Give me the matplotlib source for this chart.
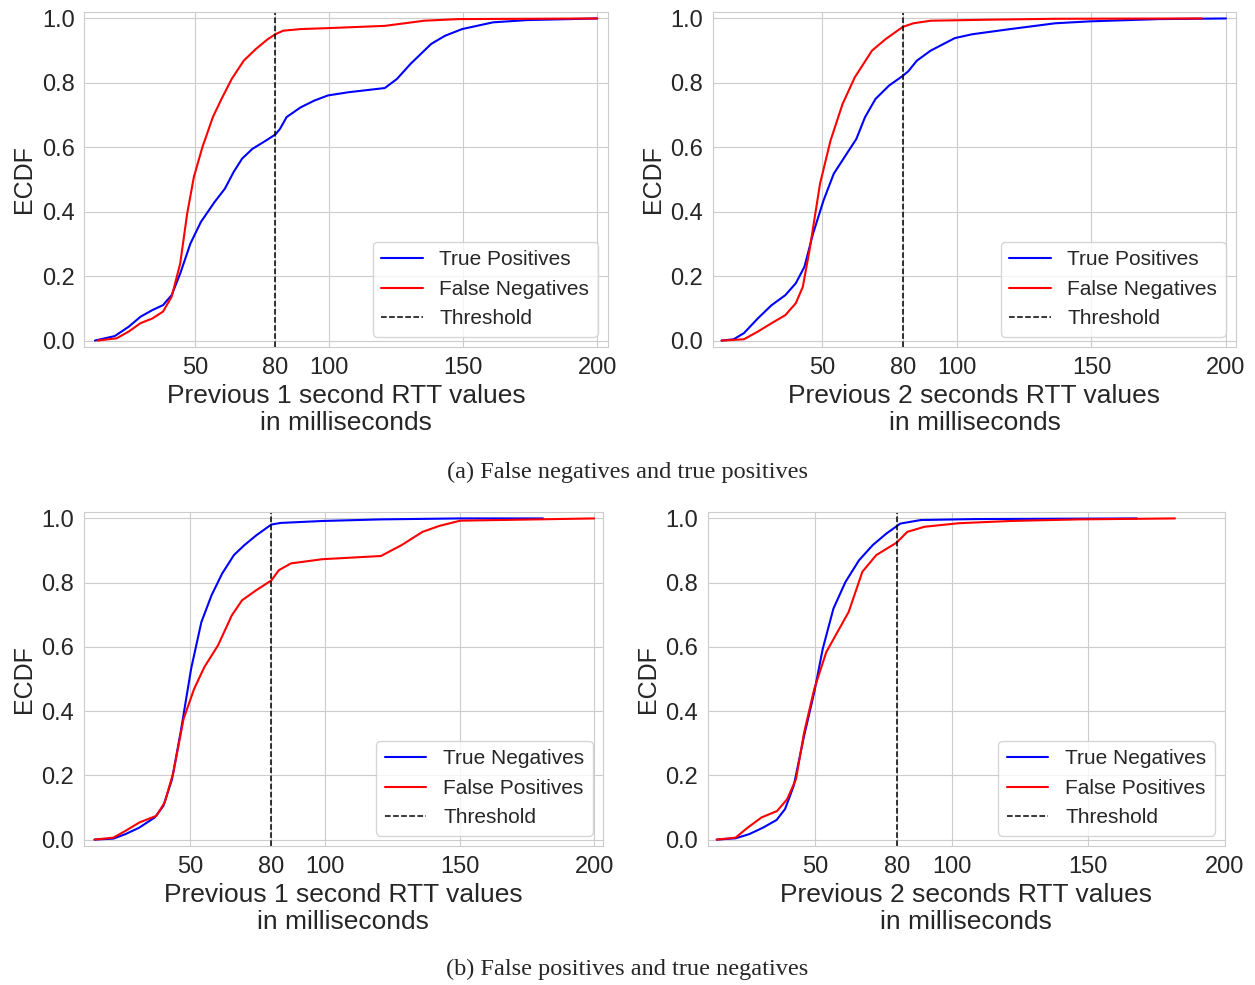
import matplotlib
matplotlib.use("Agg")
import matplotlib.pyplot as plt
import seaborn as sns

# (a) previous 1 second: true positives / false negatives
p1_tp_x = [12.7, 20.1, 25.3, 29.7, 34.2, 38.1, 41.3, 44.5, 48.3, 52.2, 57.3, 61.2, 64.4, 67.6, 71.4, 76.5, 80.0,
           81.7, 84.2, 89.4, 94.5, 99.6, 107.3, 120.8, 125.3, 130.4, 138.1, 143.2, 149.6, 161.2, 174.0, 200.0]
p1_tp_y = [0.0, 0.014, 0.043, 0.074, 0.095, 0.110, 0.141, 0.208, 0.301, 0.368, 0.430, 0.472, 0.523, 0.565, 0.595, 0.621, 0.640,
           0.657, 0.694, 0.724, 0.745, 0.761, 0.771, 0.784, 0.812, 0.859, 0.921, 0.946, 0.967, 0.988, 0.995, 1.0]
p1_fn_x = [13.7, 20.8, 25.3, 29.7, 34.2, 38.1, 41.3, 44.5, 47.1, 49.6, 52.8, 56.7, 59.9, 63.7, 68.2, 72.7, 77.2,
           80.0, 82.9, 89.4, 99.6, 120.8, 135.5, 148.3, 200.0]
p1_fn_y = [0.0, 0.007, 0.028, 0.054, 0.069, 0.090, 0.136, 0.239, 0.394, 0.508, 0.601, 0.694, 0.750, 0.812, 0.869, 0.905, 0.936,
           0.951, 0.962, 0.967, 0.970, 0.977, 0.993, 0.998, 1.0]

# (a) previous 2 seconds
p2_tp_x = [12.5, 17.0, 20.8, 26.0, 31.1, 36.2, 40.1, 43.3, 46.5, 50.4, 54.2, 59.4, 62.6, 65.8, 69.7, 74.8, 79.9,
           81.9, 85.1, 90.2, 99.2, 105.7, 119.8, 136.5, 149.4, 175.0, 200.0]
p2_tp_y = [0.0, 0.004, 0.023, 0.069, 0.110, 0.141, 0.178, 0.229, 0.332, 0.435, 0.518, 0.585, 0.626, 0.693, 0.750, 0.792, 0.822,
           0.836, 0.869, 0.900, 0.939, 0.951, 0.967, 0.985, 0.991, 0.998, 1.0]
p2_fn_x = [12.5, 20.8, 26.0, 31.1, 36.2, 40.1, 42.7, 45.2, 49.1, 53.0, 57.5, 62.0, 68.4, 73.5, 79.9, 83.8, 90.2,
           110.8, 136.5, 191.0]
p2_fn_y = [0.0, 0.004, 0.028, 0.054, 0.079, 0.116, 0.167, 0.281, 0.487, 0.621, 0.735, 0.817, 0.900, 0.936, 0.974, 0.985, 0.993,
           0.996, 0.999, 1.0]

# (b) previous 1 second: true negatives / false positives
p3_tn_x = [14.4, 21.4, 25.9, 31.0, 36.8, 40.0, 43.2, 46.4, 50.3, 54.1, 57.9, 61.8, 66.2, 70.1, 74.6, 80.1, 83.6,
           99.0, 120.8, 150.0, 181.0]
p3_tn_y = [0.0, 0.003, 0.017, 0.037, 0.069, 0.105, 0.188, 0.334, 0.532, 0.677, 0.761, 0.828, 0.886, 0.917, 0.948, 0.981, 0.986,
           0.992, 0.997, 1.0, 1.0]
p3_fp_x = [14.4, 21.4, 25.9, 31.0, 37.4, 40.5, 43.7, 47.5, 51.4, 55.2, 60.3, 65.4, 69.2, 74.4, 80.1, 82.9, 87.4,
           99.0, 120.8, 128.5, 136.2, 142.6, 150.3, 200.0]
p3_fp_y = [0.0, 0.006, 0.027, 0.053, 0.074, 0.116, 0.209, 0.376, 0.469, 0.537, 0.605, 0.698, 0.745, 0.776, 0.807, 0.839, 0.860,
           0.873, 0.883, 0.917, 0.958, 0.977, 0.993, 1.0]

# (b) previous 2 seconds
p4_tn_x = [14.0, 20.9, 25.9, 30.9, 35.9, 39.0, 42.2, 46.0, 49.7, 52.8, 56.7, 61.1, 66.1, 71.1, 76.1, 81.2, 88.7,
           108.8, 167.7]
p4_tn_y = [0.0, 0.004, 0.017, 0.037, 0.061, 0.095, 0.168, 0.324, 0.459, 0.594, 0.719, 0.802, 0.870, 0.917, 0.953, 0.984, 0.995,
           0.998, 1.0]
p4_fp_x = [14.0, 20.9, 25.3, 30.4, 36.1, 39.8, 43.0, 46.0, 49.7, 54.1, 58.5, 62.3, 67.3, 72.4, 79.9, 83.7, 90.0,
           102.5, 121.4, 146.5, 181.7]
p4_fp_y = [0.0, 0.006, 0.037, 0.069, 0.089, 0.126, 0.188, 0.334, 0.469, 0.584, 0.651, 0.709, 0.834, 0.886, 0.925, 0.958, 0.974,
           0.985, 0.992, 0.997, 1.0]

threshold = 80
x_ticks = [50, 80, 100, 150, 200]
y_ticks = [0.0, 0.2, 0.4, 0.6, 0.8, 1.0]

sns.set_style("whitegrid")
plt.rcParams['font.family'] = ['Liberation Sans', 'DejaVu Sans']

fig = plt.figure(figsize=(12.55, 9.85), dpi=100)

panels = [
  # rect, blue, red, labels, xlabel, xlim
  ([0.0673, 0.6477, 0.4171, 0.3401], (p1_tp_x, p1_tp_y), (p1_fn_x, p1_fn_y),
   ("True Positives", "False Negatives"), "Previous 1 second RTT values\nin milliseconds", (8.8, 204.0)),
  ([0.5681, 0.6477, 0.4167, 0.3401], (p2_tp_x, p2_tp_y), (p2_fn_x, p2_fn_y),
   ("True Positives", "False Negatives"), "Previous 2 seconds RTT values\nin milliseconds", (9.3, 203.7)),
  ([0.0667, 0.1411, 0.4138, 0.3391], (p3_tn_x, p3_tn_y), (p3_fp_x, p3_fp_y),
   ("True Negatives", "False Positives"), "Previous 1 second RTT values\nin milliseconds", (10.4, 203.3)),
  ([0.5639, 0.1411, 0.4122, 0.3391], (p4_tn_x, p4_tn_y), (p4_fp_x, p4_fp_y),
   ("True Negatives", "False Positives"), "Previous 2 seconds RTT values\nin milliseconds", (10.7, 200.0)),
]

for rect, blue, red, labels, xlab, xlim in panels:
  ax = fig.add_axes(rect)
  ax.plot(blue[0], blue[1], color='b', lw=1.5, label=labels[0])
  ax.plot(red[0], red[1], color='r', lw=1.5, label=labels[1])
  ax.axvline(x=threshold, color='k', linestyle='--', lw=1.1, label="Threshold")
  ax.set_xlim(xlim)
  ax.set_ylim(-0.02, 1.02)
  ax.set_xticks(x_ticks)
  ax.set_yticks(y_ticks)
  ax.tick_params(labelsize=17)
  ax.set_xlabel(xlab, fontsize=19, linespacing=1.15)
  ax.set_ylabel("ECDF", fontsize=18)
  ax.legend(loc='lower right', fontsize=15, frameon=True)

fig.text(0.5, 1 - 472 / 985., "(a) False negatives and true positives", ha='center', va='center',
         fontsize=17.5, family=['Liberation Serif', 'DejaVu Serif'])
fig.text(0.5, 1 - 969 / 985., "(b) False positives and true negatives", ha='center', va='center',
         fontsize=17.5, family=['Liberation Serif', 'DejaVu Serif'])

plt.savefig("out.png", dpi=100)
